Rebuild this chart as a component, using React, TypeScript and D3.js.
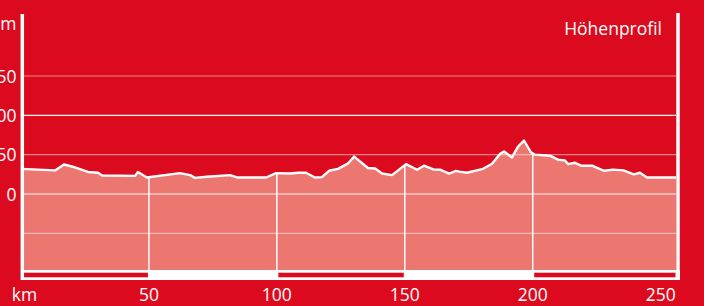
import React from 'react';
import * as d3 from 'd3';

const W = 704;
const H = 306;

// route distance (km) and elevation (m)
const distKm = [
  0, 13.3, 16.8, 19.9, 26.2, 30.1, 31.7, 44.6, 45.7, 49.2, 62.1, 66.1, 68.0, 72.7, 81.7, 84.4,
  95.8, 99.7, 105.1, 108.3, 111.4, 114.9, 117.6, 120.4, 123.9, 127.9, 130.2, 135.6, 138.4,
  141.1, 145.0, 150.5, 154.8, 157.5, 161.4, 163.8, 167.3, 170.0, 171.3, 174.3, 180.6, 184.1,
  187.2, 188.8, 191.9, 194.2, 196.6, 199.3, 200.9, 206.7, 209.9, 212.6, 213.8, 216.5, 218.9,
  223.2, 227.9, 231.4, 235.5, 239.5, 241.9, 244.7, 256,
];
const elevM = [
  32, 30, 37.5, 35, 28, 27, 23.5, 23, 28, 21, 26.5, 24, 20.5, 22, 24, 21,
  21, 26.5, 26, 27, 27, 21, 21.4, 29.5, 32, 39, 47.5, 33, 32.4,
  26, 24, 38, 30.8, 36, 31, 31, 26, 29.5, 28.5, 27, 32, 38.5,
  51, 54, 46.5, 60, 68, 53, 50, 48.7, 43.6, 42.7, 38, 39.7, 36,
  36, 29.5, 31, 30, 25, 27, 21, 21,
];

const xTicks = [50, 100, 150, 200, 250];
const yTicks = [150, 100, 50, 0];
const gridLevels = [-50, 0, 50, 100, 150];
const barSegments = [
  [0, 50],
  [100, 150],
  [200, 256],
];

const RED = '#DC0A1E';
const PINK = '#EC7670';
const FONT = "'Open Sans', sans-serif";

export default function App() {
  const x = d3.scaleLinear().domain([0, 256]).range([21, 676]);
  const y = d3.scaleLinear().domain([0, 150]).range([194, 76]);
  const baseY = 270;
  const pts: [number, number][] = distKm.map((d, i) => [d, elevM[i]]);

  const area = d3
    .area<[number, number]>()
    .x((d) => x(d[0]))
    .y0(baseY)
    .y1((d) => y(d[1]));
  const line = d3
    .line<[number, number]>()
    .x((d) => x(d[0]))
    .y((d) => y(d[1]));

  return (
    <svg
      width={W}
      height={H}
      style={{ position: 'absolute', left: 0, top: 0, display: 'block' }}
      fontFamily={FONT}
    >
      <defs>
        <clipPath id="profile-clip">
          <path d={area(pts) ?? ''} />
        </clipPath>
      </defs>
      <rect width={W} height={H} fill={RED} />

      {/* elevation area */}
      <path d={area(pts) ?? ''} fill={PINK} />

      {/* horizontal grid */}
      {gridLevels.map((v) => (
        <line
          key={v}
          x1={24}
          x2={676}
          y1={y(v)}
          y2={y(v)}
          stroke="#FFFFFF"
          strokeWidth={1.2}
          strokeOpacity={v % 100 === 0 ? 0.95 : 0.5}
        />
      ))}

      {/* vertical grid, only inside the profile */}
      <g clipPath="url(#profile-clip)">
        {xTicks.slice(0, 4).map((k) => (
          <line
            key={k}
            x1={x(k)}
            x2={x(k)}
            y1={14}
            y2={baseY}
            stroke="#FFFFFF"
            strokeWidth={1.5}
          />
        ))}
      </g>

      {/* profile line */}
      <path
        d={line(pts) ?? ''}
        fill="none"
        stroke="#FFFFFF"
        strokeWidth={2.4}
        strokeLinejoin="round"
      />

      {/* distance scale bar */}
      <rect x={21} y={baseY} width={659} height={10} fill="#FFFFFF" />
      {barSegments.map(([a, b]) => (
        <rect
          key={a}
          x={a === 0 ? 24 : x(a) + 1.5}
          y={272.7}
          width={(b === 256 ? 675.5 : x(b) - 1) - (a === 0 ? 24 : x(a) + 1.5)}
          height={4.6}
          fill={RED}
        />
      ))}

      {/* axes */}
      <line x1={22.3} x2={22.3} y1={14} y2={280} stroke="#FFFFFF" strokeWidth={3.5} />
      <line x1={678} x2={678} y1={13} y2={280} stroke="#FFFFFF" strokeWidth={3.5} />

      {/* y labels */}
      <text x={16.5} y={30} textAnchor="end" fill="#FFFFFF" fontSize={17.5}>
        m
      </text>
      {yTicks.map((v) => (
        <text key={v} x={16.5} y={y(v) + 6.5} textAnchor="end" fill="#FFFFFF" fontSize={17.5}>
          {v}
        </text>
      ))}

      {/* x labels */}
      <text x={24.5} y={301} textAnchor="middle" fill="#FFFFFF" fontSize={17.5}>
        km
      </text>
      {xTicks.map((k) => (
        <text key={k} x={x(k)} y={301} textAnchor="middle" fill="#FFFFFF" fontSize={17.5}>
          {k}
        </text>
      ))}

      <text x={662} y={35} textAnchor="end" fill="#FFFFFF" fontSize={17.5}>
        Höhenprofil
      </text>
    </svg>
  );
}
